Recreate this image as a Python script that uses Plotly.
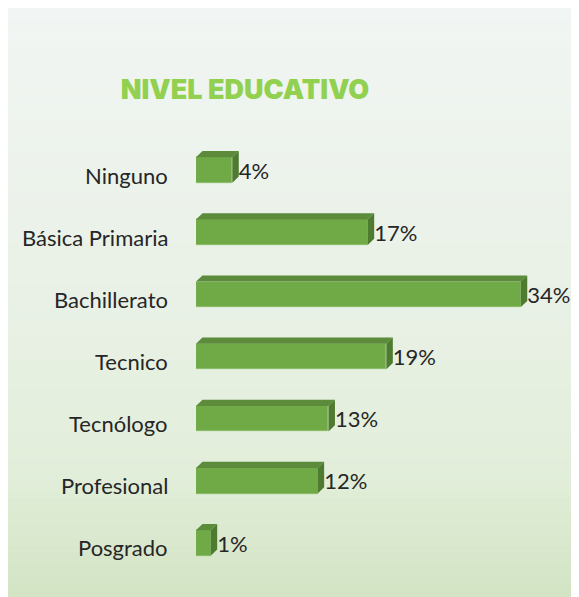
import plotly.graph_objects as go

# ---- data ----
categories = ["Ninguno", "Básica Primaria", "Bachillerato", "Tecnico",
              "Tecnólogo", "Profesional", "Posgrado"]
# bar lengths (percent)
values = [3.7, 17.5, 33.1, 19.4, 13.5, 12.4, 1.5]
value_labels = ["4%", "17%", "34%", "19%", "13%", "12%", "1%"]
title_text = "NIVEL EDUCATIVO"

# ---- style constants ----
W, H = 571, 589          # page adds 8px body margin
ML, MR, MT, MB = 188, 18, 131, 23
XMAX = 37.2
BAR_W = 0.41
DX = 0.66      # 3D depth in x units
DY = 0.10      # 3D depth in y units
FRONT = "#6FAA47"
TOP = "#5C8C3B"
SIDE = "#4E7B30"
TEXT = "#262626"
FONT = "Lato"

pos = list(range(len(categories)))
h = BAR_W / 2

fig = go.Figure()

# front faces
fig.add_trace(go.Bar(
    x=values, y=pos, orientation="h", width=BAR_W,
    marker=dict(color=FRONT, line=dict(color="#86BE60", width=0.5)),
    hoverinfo="skip", showlegend=False,
))

# top and side faces
tx, ty, sx, sy = [], [], [], []
for v, p in zip(values, pos):
    tx += [0, v, v + DX, DX, 0, None]
    ty += [p - h, p - h, p - h - DY, p - h - DY, p - h, None]
    sx += [v, v + DX, v + DX, v, v, None]
    sy += [p - h, p - h - DY, p + h - DY, p + h, p - h, None]
fig.add_trace(go.Scatter(x=tx, y=ty, mode="lines", fill="toself",
                         fillcolor=TOP, line=dict(width=0, color=TOP),
                         hoverinfo="skip", showlegend=False))
fig.add_trace(go.Scatter(x=sx, y=sy, mode="lines", fill="toself",
                         fillcolor=SIDE, line=dict(width=0, color=SIDE),
                         hoverinfo="skip", showlegend=False))

# value labels
fig.add_trace(go.Scatter(
    x=[v + DX for v in values], y=[p + 0.05 for p in pos],
    mode="text", text=value_labels, textposition="middle right",
    textfont=dict(family=FONT, size=22, color=TEXT), cliponaxis=False,
    hoverinfo="skip", showlegend=False,
))

# category labels
annotations = []
for c, p in zip(categories, pos):
    annotations.append(dict(
        x=0, xref="paper", y=p, yref="y", text=c, showarrow=False,
        xanchor="right", yanchor="middle", xshift=-26, yshift=-5,
        font=dict(family=FONT, size=22, color=TEXT),
    ))

# background gradient panel
pw = W - ML - MR
ph = H - MT - MB
def px_to_xp(px):
    return (px - ML) / pw
def py_to_yp(py):
    return (H - MB - py) / ph

stops = [(0, (241, 245, 243)), (292, (233, 241, 230)),
         (462, (226, 238, 218)), (H, (211, 228, 196))]
def col_at(py):
    for (a, ca), (b, cb) in zip(stops[:-1], stops[1:]):
        if a <= py <= b:
            t = (py - a) / (b - a)
            return tuple(round(ca[i] + (cb[i] - ca[i]) * t) for i in range(3))
    return stops[-1][1]

shapes = []
top, bot = 0, H
n = 90
step = (bot - top) / n
for i in range(n):
    y0 = top + i * step
    y1 = y0 + step + 0.6
    c = col_at(y0 + step / 2)
    shapes.append(dict(
        type="rect", xref="paper", yref="paper", layer="below",
        x0=px_to_xp(0), x1=px_to_xp(W + 2),
        y0=py_to_yp(min(y1, bot)), y1=py_to_yp(y0),
        fillcolor="rgb(%d,%d,%d)" % c, line=dict(width=0),
    ))

fig.update_layout(
    width=W, height=H,
    margin=dict(l=ML, r=MR, t=MT, b=MB),
    paper_bgcolor="white", plot_bgcolor="rgba(0,0,0,0)",
    title=dict(text=title_text, x=237 / W, xanchor="center",
               y=1 - 82 / H, yanchor="middle", xref="container", yref="container",
               font=dict(family="Inter", size=27, color="#92D050", weight=900)),
    xaxis=dict(range=[0, XMAX], visible=False, fixedrange=True),
    yaxis=dict(range=[len(categories) - 0.5, -0.5], visible=False, fixedrange=True),
    annotations=annotations, shapes=shapes,
    bargap=0, showlegend=False,
)

fig.write_html("out.html")
